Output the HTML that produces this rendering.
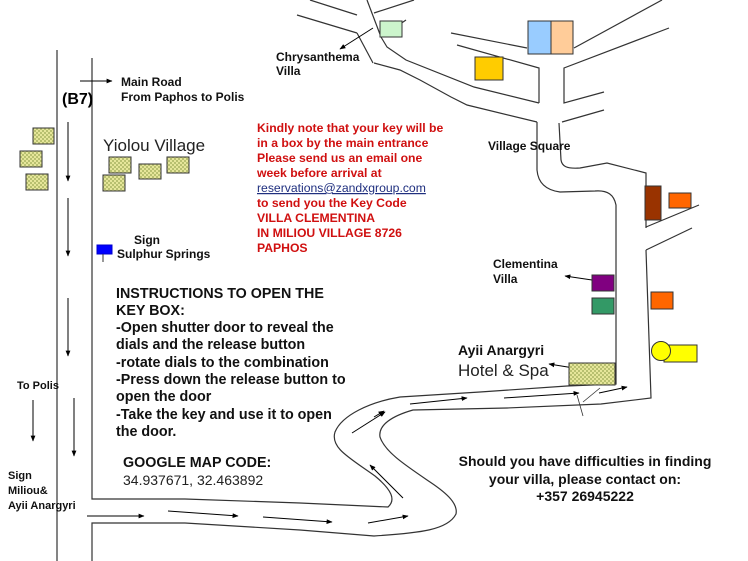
<!DOCTYPE html>
<html><head><meta charset="utf-8"><style>
html,body{margin:0;padding:0;background:#fff;}
svg{display:block;}
text{font-family:"Liberation Sans",Arial,sans-serif;}
.b{font-weight:bold;}
</style></head><body>
<svg width="748" height="561" viewBox="0 0 748 561" xmlns="http://www.w3.org/2000/svg">
<defs>
<pattern id="chk" width="4" height="4" patternUnits="userSpaceOnUse">
<rect width="4" height="4" fill="#e6e69a"/><rect width="2" height="2" fill="#b8c070"/><rect x="2" y="2" width="2" height="2" fill="#b8c070"/>
</pattern>
<marker id="ah" viewBox="0 0 10 10" refX="9" refY="5" markerWidth="6" markerHeight="6" orient="auto"><path d="M0,1 L10,5 L0,9 z" fill="#000"/></marker>
</defs>
<g fill="none" stroke="#333" stroke-width="1.2">
<line x1="57" y1="50" x2="57" y2="561"/>
<polyline points="92,58 92,499 185,499"/>
<polyline points="185,523 92,523 92,561"/>
<path d="M185,499 L300,503 L388,507 C396,500 392,490 375,476 C350,458 330,448 335,432 C342,415 370,402 400,397 L480,392 L567,386 L616,384 L616,205 C614,195 608,190 595,191 L560,192 C545,190 538,182 537,170 L537,122"/>
<path d="M185,523 L300,530 L374,536 C420,533 448,530 456,514 C458,504 448,494 430,482 C405,465 385,452 380,437 C378,425 392,416 413,410 L507,408 L601,404 L651,398 L646,250"/>
<path d="M559,123 L561,160 C562,166 566,169 580,168 L607,163 L646,173 L646,228"/>
<line x1="646" y1="227" x2="699" y2="205"/>
<line x1="646" y1="250" x2="692" y2="228"/>
<path d="M537,122 L467,105 L451,97 L420,80 L400,70 L374,63"/>
<path d="M539,103 L539,68 L457,45"/>
<path d="M381,37 L387,47 L406,60 L474,87 L539,103"/>
<line x1="451" y1="33" x2="527" y2="48"/>
<line x1="574" y1="48" x2="662" y2="0"/>
<polyline points="669,28 564,68 564,103 604,92"/>
<line x1="562" y1="122" x2="604" y2="110"/>
<line x1="297" y1="15" x2="357" y2="33"/>
<line x1="310" y1="0" x2="357" y2="15"/>
<line x1="357" y1="33" x2="373" y2="63"/>
<line x1="367" y1="0" x2="381" y2="37"/>
<line x1="374" y1="13" x2="414" y2="0"/>
<line x1="381" y1="37" x2="406" y2="20"/>
<line x1="600" y1="388" x2="583" y2="402" stroke-width="0.8"/>
<line x1="577" y1="395" x2="583" y2="416" stroke-width="0.8"/>
</g>
<g stroke="#000" stroke-width="1" marker-end="url(#ah)">
<line x1="80" y1="81" x2="112" y2="81"/>
<line x1="68" y1="122" x2="68" y2="181"/>
<line x1="68" y1="198" x2="68" y2="256"/>
<line x1="68" y1="298" x2="68" y2="356"/>
<line x1="74" y1="398" x2="74" y2="456"/>
<line x1="33" y1="400" x2="33" y2="441"/>
<line x1="87" y1="516" x2="144" y2="516"/>
<line x1="168" y1="511" x2="238" y2="516"/>
<line x1="263" y1="517" x2="332" y2="522"/>
<line x1="368" y1="523" x2="408" y2="516"/>
<line x1="403" y1="498" x2="370" y2="465"/>
<line x1="352" y1="433" x2="385" y2="412"/>
<line x1="410" y1="404" x2="467" y2="398"/>
<line x1="504" y1="398" x2="579" y2="393"/>
<line x1="599" y1="393" x2="627" y2="387"/>
<line x1="374" y1="417" x2="384" y2="411"/>
<line x1="373" y1="28" x2="340" y2="49"/>
<line x1="592" y1="280" x2="565" y2="276"/>
<line x1="580" y1="369" x2="549" y2="364"/>
</g>
<g stroke="#333" stroke-width="1">
<rect x="33" y="128" width="21" height="16" fill="url(#chk)"/>
<rect x="20" y="151" width="22" height="16" fill="url(#chk)"/>
<rect x="26" y="174" width="22" height="16" fill="url(#chk)"/>
<rect x="109" y="157" width="22" height="16" fill="url(#chk)"/>
<rect x="139" y="164" width="22" height="15" fill="url(#chk)"/>
<rect x="167" y="157" width="22" height="16" fill="url(#chk)"/>
<rect x="103" y="175" width="22" height="16" fill="url(#chk)"/>
<rect x="569" y="363" width="46" height="22" fill="url(#chk)"/>
<rect x="380" y="21" width="22" height="16" fill="#ccf5cc"/>
<rect x="528" y="21" width="23" height="33" fill="#99ccff"/>
<rect x="551" y="21" width="22" height="33" fill="#ffcc99"/>
<rect x="475" y="57" width="28" height="23" fill="#ffcc00"/>
<rect x="645" y="186" width="16" height="34" fill="#993300"/>
<rect x="669" y="193" width="22" height="15" fill="#ff6600"/>
<rect x="592" y="275" width="22" height="16" fill="#800080"/>
<rect x="592" y="298" width="22" height="16" fill="#339966"/>
<rect x="651" y="292" width="22" height="17" fill="#ff6600"/>
<rect x="664" y="345" width="33" height="17" fill="#ffff00"/>
<circle cx="661" cy="351" r="9.5" fill="#ffff00"/>
<rect x="97" y="245" width="15" height="9" fill="#0000ff" stroke="#0000cc"/>
<line x1="103" y1="254" x2="103" y2="262"/>
</g>
<g font-size="12" class="b" fill="#111">
<text x="121" y="86">Main Road</text>
<text x="121" y="101">From Paphos to Polis</text>
<text x="276" y="61">Chrysanthema</text>
<text x="276" y="75">Villa</text>
<text x="488" y="150">Village Square</text>
<text x="493" y="268">Clementina</text>
<text x="493" y="283">Villa</text>
<text x="134" y="244">Sign</text>
<text x="117" y="258">Sulphur Springs</text>
<text x="17" y="389" font-size="11">To Polis</text>
<text x="8" y="479" font-size="11">Sign</text>
<text x="8" y="494" font-size="11">Miliou&amp;</text>
<text x="8" y="509" font-size="11">Ayii  Anargyri</text>
</g>
<text x="62" y="104" class="b" font-size="16">(B7)</text>
<text x="103" y="151" font-size="17" fill="#222">Yiolou Village</text>
<g font-size="12.2" class="b" fill="#d01010">
<text x="257" y="132">Kindly note that your key will be</text>
<text x="257" y="147">in a box by the main entrance</text>
<text x="257" y="162">Please send us an email one</text>
<text x="257" y="177">week before arrival at</text>
<text x="257" y="192" fill="#1f2f7f" font-weight="normal" text-decoration="underline">reservations@zandxgroup.com</text>
<text x="257" y="207">to send you the Key Code</text>
<text x="257" y="222">VILLA CLEMENTINA</text>
<text x="257" y="237">IN MILIOU VILLAGE  8726</text>
<text x="257" y="252">PAPHOS</text>
</g>
<g font-size="14.3" class="b" fill="#111">
<text x="116" y="298">INSTRUCTIONS TO OPEN THE</text>
<text x="116" y="315">KEY BOX:</text>
<text x="116" y="332">-Open shutter door to reveal the</text>
<text x="116" y="349">dials and the release button</text>
<text x="116" y="367">-rotate dials to the combination</text>
<text x="116" y="384">-Press down the release button to</text>
<text x="116" y="401">open the door</text>
<text x="116" y="419">-Take the key and use it to open</text>
<text x="116" y="436">the door.</text>
<text x="123" y="467">GOOGLE MAP CODE:</text>
</g>
<g font-size="14" class="b" fill="#111">
<text x="458" y="355">Ayii  Anargyri</text>
<text x="585" y="466" text-anchor="middle">Should you have difficulties in finding</text>
<text x="585" y="484" text-anchor="middle">your villa, please contact on:</text>
<text x="585" y="501" text-anchor="middle">+357 26945222</text>
</g>
<text x="123" y="485" font-size="14" fill="#222">34.937671, 32.463892</text>
<text x="458" y="376" font-size="17" fill="#222">Hotel &amp; Spa</text>
</svg>
</body></html>
